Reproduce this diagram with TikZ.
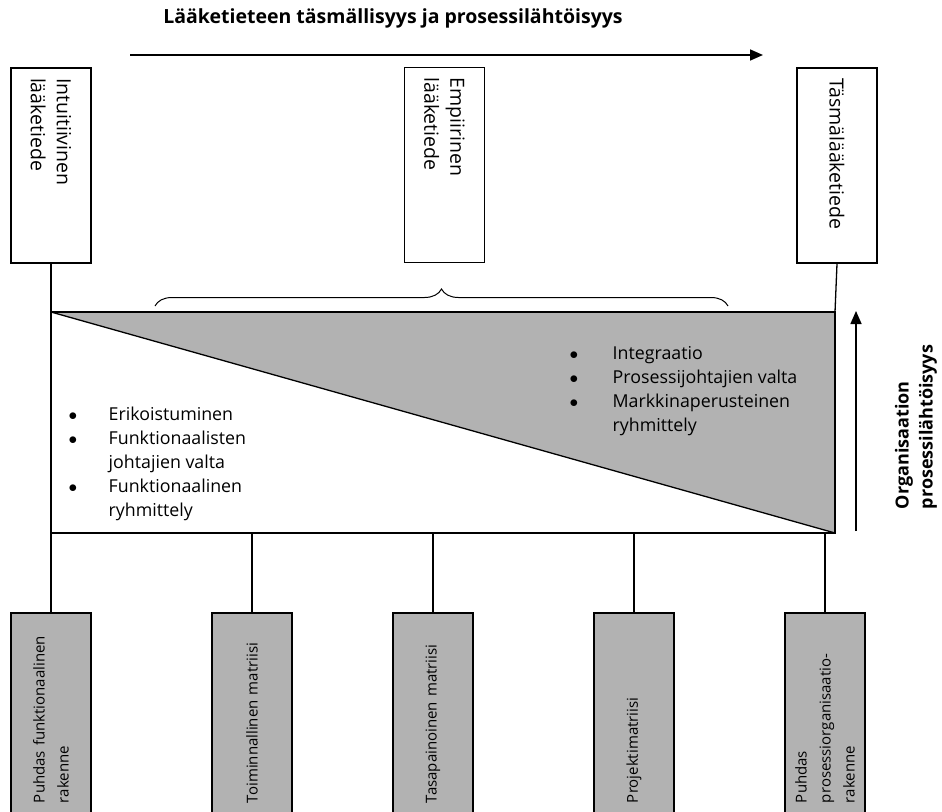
\documentclass[tikz,border=0pt]{standalone}
\usepackage{fontspec}
\setmainfont{Open Sans}
\usetikzlibrary{arrows.meta,decorations.pathreplacing}
\definecolor{boxgray}{gray}{0.7}
\newcommand{\blt}{$\bullet$}

\begin{document}
\begin{tikzpicture}[x=1pt,y=-1pt,line width=1.3pt,
    topbox/.style={draw,fill=white,rotate=-90,minimum height=80pt,
        inner xsep=10pt,text width=175pt,align=left,
        font=\fontsize{19.5}{26}\selectfont},
    botbox/.style={draw,fill=boxgray,rotate=90,minimum height=80pt,
        inner xsep=15pt,text width=175pt,align=left,
        font=\fontsize{15}{24}\selectfont},
    bigarrow/.style={line width=1.6pt,-{Triangle[length=13pt,width=11pt]}},
    lbl/.style={font=\bfseries\fontsize{19.5}{24}\selectfont},
    listtext/.style={anchor=north west,inner sep=0pt,
        font=\fontsize{17.8}{24}\selectfont}]
    \clip (0,0) rectangle (942,811);

    % title and horizontal arrow
    \node[lbl] (title) at (393,18)
        {Lääketieteen täsmällisyys ja prosessilähtöisyys};
    \coordinate (hstart) at (130,55);
    \coordinate (hend) at (763,55);
    \draw[bigarrow] (hstart) -- (hend);

    % corners of the main area
    \coordinate (tl) at (51,312);
    \coordinate (tr) at (835,312);
    \coordinate (br) at (835,533);
    \coordinate (bl) at (51,533);
    \fill[boxgray] (tl) -- (tr) -- (br) -- cycle;
    \draw (tl) -- (br);
    \draw (tl) rectangle (br);

    % brace
    \coordinate (bracel) at (155,306);
    \coordinate (bracer) at (728,306);
    \draw[line width=1pt,decorate,decoration={brace,amplitude=17pt}]
        (bracel) -- (bracer);

    % top boxes
    \node[topbox] (intu) at (51,165.5) {Intuitiivinen\\lääketiede};
    \node[topbox] (empi) at (444.5,165) {Empiirinen\\lääketiede};
    \node[topbox] (tasma) at (837,165.5) {Täsmälääketiede};
    \draw (intu.east) -- (tl);
    \draw (tasma.east) -- (tr);

    % lists
    \node[listtext] (leftlist) at (68,403) {%
        \begin{tabular}{@{}p{40pt}@{}l@{}}
        \blt & Erikoistuminen\\
        \blt & Funktionaalisten\\
             & johtajien valta\\
        \blt & Funktionaalinen\\
             & ryhmittely
        \end{tabular}};
    \node[listtext] (rightlist) at (569,342) {%
        \begin{tabular}{@{}p{43pt}@{}l@{}}
        \blt & Integraatio\\
        \blt & Prosessijohtajien valta\\
        \blt & Markkinaperusteinen\\
             & ryhmittely
        \end{tabular}};

    % vertical arrow
    \coordinate (vstart) at (856,531);
    \coordinate (vend) at (856,311);
    \draw[bigarrow] (vstart) -- (vend);
    \node[lbl,rotate=90,align=left,font=\bfseries\fontsize{18}{24}\selectfont]
        (orglbl) at (916,427) {Organisaation\\prosessilähtöisyys};

    % bottom boxes
    \node[botbox] (puhf) at (51,715.5) {Puhdas funktionaalinen\\rakenne};
    \node[botbox] (toim) at (252,715.5) {Toiminnallinen matriisi};
    \node[botbox] (tasa) at (433,715.5) {Tasapainoinen matriisi};
    \node[botbox] (proj) at (634,715.5) {Projektimatriisi};
    \node[botbox] (puhp) at (825,715.5)
        {Puhdas\\prosessiorganisaatio-\\rakenne};
    \foreach \b in {puhf,toim,tasa,proj,puhp}
        \draw (\b.east) -- (\b.east |- bl);
\end{tikzpicture}
\end{document}
